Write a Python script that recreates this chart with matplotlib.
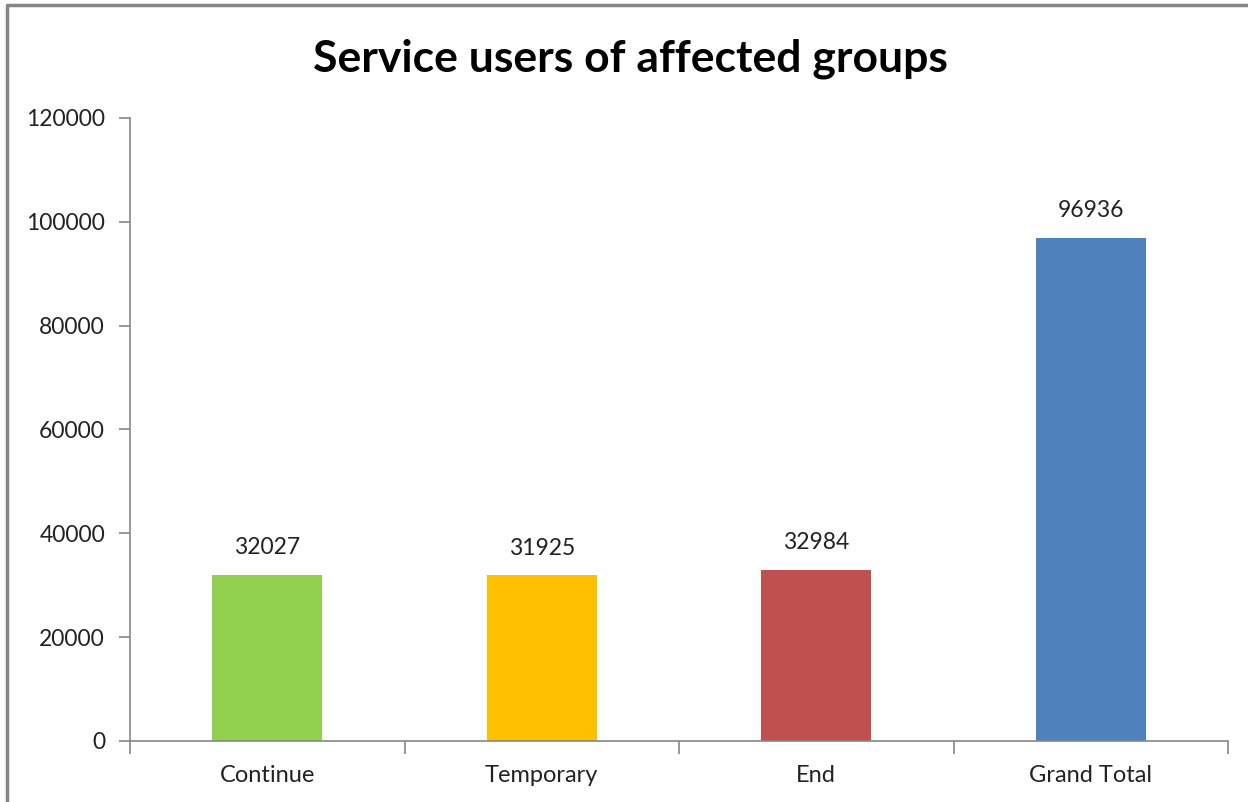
import numpy as np
from matplotlib import pyplot as plt
from matplotlib.lines import Line2D

plt.rc('font', family=['Lato', 'DejaVu Sans'])

categories = ['Continue', 'Temporary', 'End', 'Grand Total']
values = [32027, 31925, 32984, 96936]
colors = ['#92D050', '#FFC000', '#C0504D', '#4F81BD']
yticks = [0, 20000, 40000, 60000, 80000, 100000, 120000]

fig = plt.figure(figsize=(12.48, 8.02), dpi=100)
# chart-area border: only left and top edges fall inside the picture
fig.lines.append(Line2D([7/1248, 7/1248, 1], [0, 1 - 5/802, 1 - 5/802], transform=fig.transFigure,
                        color='#868686', linewidth=2.5))
ax = fig.add_axes([0.1042, 0.0761, 0.8798, 0.7768])

x = np.arange(len(categories))
bars = ax.bar(x, values, width=0.4, color=colors)
for b, v in zip(bars, values):
    ax.annotate(str(v), (b.get_x() + b.get_width() / 2, v), xytext=(0, 12),
                textcoords='offset points', ha='center', va='bottom', fontsize=16.5, color='#222222')

ax.set_xlim(-0.5, len(categories) - 0.5)
ax.set_ylim(0, 120000)
ax.set_yticks(yticks)
ax.set_yticklabels([str(t) for t in yticks])
ax.set_xticks(x)
ax.set_xticklabels(categories)
ax.tick_params(axis='x', length=0, pad=17, labelsize=17, labelcolor='#222222')
ax.tick_params(axis='y', length=8, width=1.2, color='#868686', pad=10, labelsize=16.5, labelcolor='#222222')
ax.set_xticks(np.arange(-0.5, len(categories)), minor=True)
ax.tick_params(axis='x', which='minor', length=9, width=1.2, color='#868686')

for s in ['top', 'right']:
    ax.spines[s].set_visible(False)
for s in ['left', 'bottom']:
    ax.spines[s].set_color('#868686')
    ax.spines[s].set_linewidth(1.2)

fig.text(0.505, 0.927, 'Service users of affected groups', ha='center', va='center',
         fontsize=32, fontweight='bold')

plt.savefig('out.png', dpi=100)
